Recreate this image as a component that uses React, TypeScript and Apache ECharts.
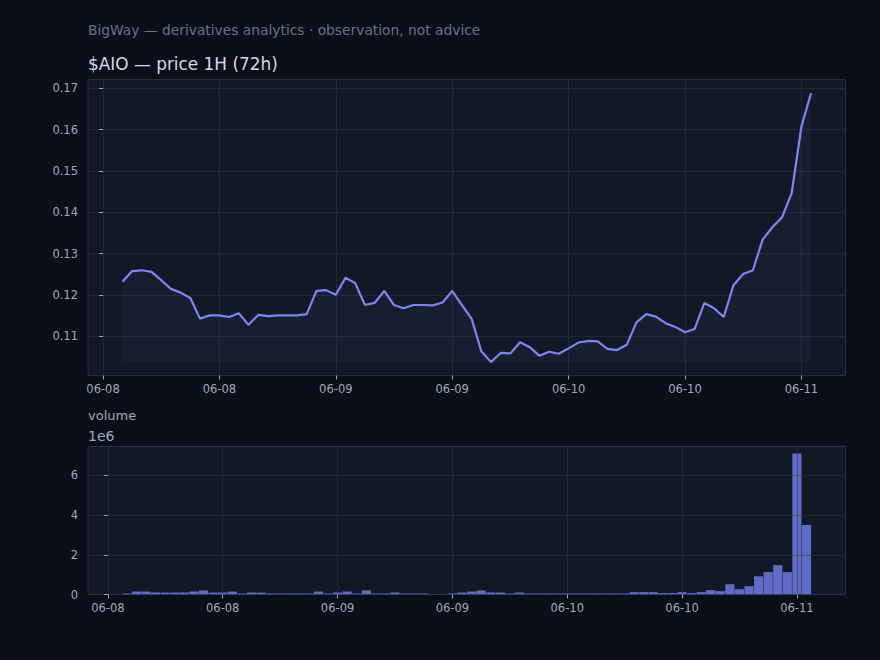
import React, { useEffect, useRef } from "react";
import * as echarts from "echarts";

// hours since 06-08 00:00 of the first hourly candle
const START_HOUR = 2;

const PRICE = [
  0.1232, 0.1258, 0.126, 0.1256, 0.1236, 0.1215, 0.1206, 0.1193, 0.1143, 0.1151,
  0.1151, 0.1147, 0.1156, 0.1128, 0.1152, 0.1149, 0.1151, 0.1151, 0.1151, 0.1154,
  0.121, 0.1212, 0.1201, 0.1242, 0.1229, 0.1176, 0.1181, 0.121, 0.1176, 0.1168,
  0.1176, 0.1176, 0.1175, 0.1182, 0.121, 0.1176, 0.1143, 0.1064, 0.1038, 0.106,
  0.1059, 0.1086, 0.1074, 0.1053, 0.1063, 0.1058, 0.1071, 0.1085, 0.1089, 0.1088,
  0.107, 0.1067, 0.108, 0.1134, 0.1154, 0.1148, 0.1132, 0.1123, 0.111, 0.1118,
  0.1181, 0.1168, 0.1147, 0.1224, 0.1251, 0.126, 0.1334, 0.1364, 0.1388, 0.1447,
  0.1607, 0.1689,
];

const VOLUME = [
  52000, 150000, 148000, 102000, 98000, 100000, 104000, 152000, 205000, 99000,
  101000, 148000, 50000, 103000, 97000, 51000, 48000, 52000, 50000, 49000,
  150000, 52000, 101000, 152000, 48000, 210000, 50000, 52000, 102000, 49000,
  51000, 50000, 12000, 10000, 52000, 100000, 150000, 205000, 102000, 98000,
  50000, 101000, 49000, 51000, 50000, 48000, 52000, 50000, 49000, 51000,
  50000, 52000, 48000, 118000, 122000, 120000, 70000, 72000, 120000, 68000,
  122000, 220000, 170000, 520000, 270000, 420000, 920000, 1130000, 1480000, 1130000,
  7100000, 3500000,
];

const X_TICKS = [0, 12, 24, 36, 48, 60, 72];
const X_TICK_LABELS = ["06-08", "06-08", "06-09", "06-09", "06-10", "06-10", "06-11"];
const PRICE_TICKS = [0.11, 0.12, 0.13, 0.14, 0.15, 0.16, 0.17];

const SUBTITLE = "BigWay — derivatives analytics · observation, not advice";
const TITLE = "$AIO — price 1H (72h)";
const VOL_TITLE = "volume";
const VOL_OFFSET = "1e6";

const FONT = '"DejaVu Sans", sans-serif';
const PAGE_BG = "#0b0f1a";
const PLOT_BG = "#131826";
const BORDER = "#262d3d";
const GRID = "rgba(46, 54, 74, 0.5)";
const TICK = "#a0a8b8";
const LINE = "#7c86f0";
const BAR = "#5f6bc4";

export default function App() {
  const ref = useRef<HTMLDivElement>(null);

  useEffect(() => {
    if (!ref.current) return;
    const chart = echarts.init(ref.current, undefined, { renderer: "svg" });

    const priceData = PRICE.map((p, i) => [START_HOUR + i, p]);
    const volData = VOLUME.map((v, i) => [START_HOUR + i, v]);
    const pMin = Math.min(...PRICE);
    const pMax = Math.max(...PRICE);
    const pPad = (pMax - pMin) * 0.05;
    const hFirst = START_HOUR;
    const hLast = START_HOUR + PRICE.length - 1;
    const hPad = (hLast - hFirst) * 0.05;
    const BAR_W = 0.96;
    const bFirst = hFirst - BAR_W / 2;
    const bLast = hLast + BAR_W / 2;
    const bPad = (bLast - bFirst) * 0.05;
    const vMax = Math.max(...VOLUME) * 1.05;

    const xLabelFmt = (v: number) => {
      const k = X_TICKS.indexOf(Math.round(v));
      return k >= 0 ? X_TICK_LABELS[k] : "";
    };

    const commonX = (gridIndex: number, min: number, max: number, z: number) => ({
      type: "value",
      gridIndex,
      min,
      max,
      z,
      axisLine: { show: false },
      axisTick: {
        show: true,
        length: 4,
        customValues: X_TICKS,
        lineStyle: { color: TICK, width: 1 },
      },
      axisLabel: {
        customValues: X_TICKS,
        formatter: xLabelFmt,
        color: TICK,
        fontSize: 11.5,
        fontFamily: FONT,
        margin: 7,
      },
      splitLine: { show: true, lineStyle: { color: GRID, width: 1 } },
    });

    chart.setOption({
      animation: false,
      backgroundColor: PAGE_BG,
      textStyle: { fontFamily: FONT },
      graphic: [
        {
          type: "text",
          x: 88,
          y: 30,
          style: {
            text: SUBTITLE,
            fill: "#687386",
            font: `13.8px ${FONT}`,
            textAlign: "left",
            textVerticalAlign: "middle",
          },
        },
        {
          type: "text",
          x: 88,
          y: 64,
          style: {
            text: TITLE,
            fill: "#d5d9e2",
            font: `16.9px ${FONT}`,
            textAlign: "left",
            textVerticalAlign: "middle",
          },
        },
        {
          type: "text",
          x: 88,
          y: 415,
          style: {
            text: VOL_TITLE,
            fill: TICK,
            font: `13px ${FONT}`,
            textAlign: "left",
            textVerticalAlign: "middle",
          },
        },
        {
          type: "text",
          x: 88,
          y: 436,
          style: {
            text: VOL_OFFSET,
            fill: TICK,
            font: `14px ${FONT}`,
            textAlign: "left",
            textVerticalAlign: "middle",
          },
        },
      ],
      grid: [
        {
          left: 88,
          right: 34.5,
          top: 79.5,
          height: 296,
          show: true,
          backgroundColor: PLOT_BG,
          borderColor: BORDER,
          borderWidth: 1,
        },
        {
          left: 88,
          right: 34.5,
          top: 446.5,
          height: 148,
          show: true,
          backgroundColor: PLOT_BG,
          borderColor: BORDER,
          borderWidth: 1,
        },
      ],
      xAxis: [
        commonX(0, hFirst - hPad, hLast + hPad, 0),
        commonX(1, bFirst - bPad, bLast + bPad, 5),
      ],
      yAxis: [
        {
          type: "value",
          gridIndex: 0,
          min: pMin - pPad,
          max: pMax + pPad,
          axisLine: { show: false },
          axisTick: {
            show: true,
            length: 4,
            customValues: PRICE_TICKS,
            lineStyle: { color: TICK },
          },
          axisLabel: {
            customValues: PRICE_TICKS,
            formatter: (v: number) => v.toFixed(2),
            color: TICK,
            fontSize: 11.5,
            fontFamily: FONT,
            margin: 10,
          },
          splitLine: { show: true, lineStyle: { color: GRID, width: 1 } },
        },
        {
          type: "value",
          gridIndex: 1,
          min: 0,
          max: vMax,
          interval: 2000000,
          z: 5,
          axisLine: { show: false },
          axisTick: { show: true, length: 4, lineStyle: { color: TICK } },
          axisLabel: {
            formatter: (v: number) => String(Math.round(v / 1e6)),
            color: TICK,
            fontSize: 11.5,
            fontFamily: FONT,
            margin: 10,
            showMaxLabel: false,
          },
          splitLine: { show: true, lineStyle: { color: GRID, width: 1 } },
        },
      ],
      series: [
        {
          type: "line",
          xAxisIndex: 0,
          yAxisIndex: 0,
          data: priceData,
          showSymbol: false,
          symbol: "none",
          lineStyle: { color: LINE, width: 2.2 },
          areaStyle: { color: "rgba(124, 134, 240, 0.08)", origin: pMin },
          z: 3,
        },
        {
          type: "custom",
          xAxisIndex: 1,
          yAxisIndex: 1,
          data: volData,
          z: 2,
          renderItem: (params: any, api: any) => {
            const x = api.value(0);
            const v = api.value(1);
            const p0 = api.coord([x - BAR_W / 2, 0]);
            const p1 = api.coord([x + BAR_W / 2, v]);
            return {
              type: "rect",
              shape: {
                x: p0[0],
                y: p1[1],
                width: p1[0] - p0[0],
                height: p0[1] - p1[1],
              },
              style: { fill: BAR },
            };
          },
        },
      ],
    });

    return () => chart.dispose();
  }, []);

  return (
    <div
      ref={ref}
      style={{ width: 880, height: 660, position: "absolute", left: 0, top: 0 }}
    />
  );
}
